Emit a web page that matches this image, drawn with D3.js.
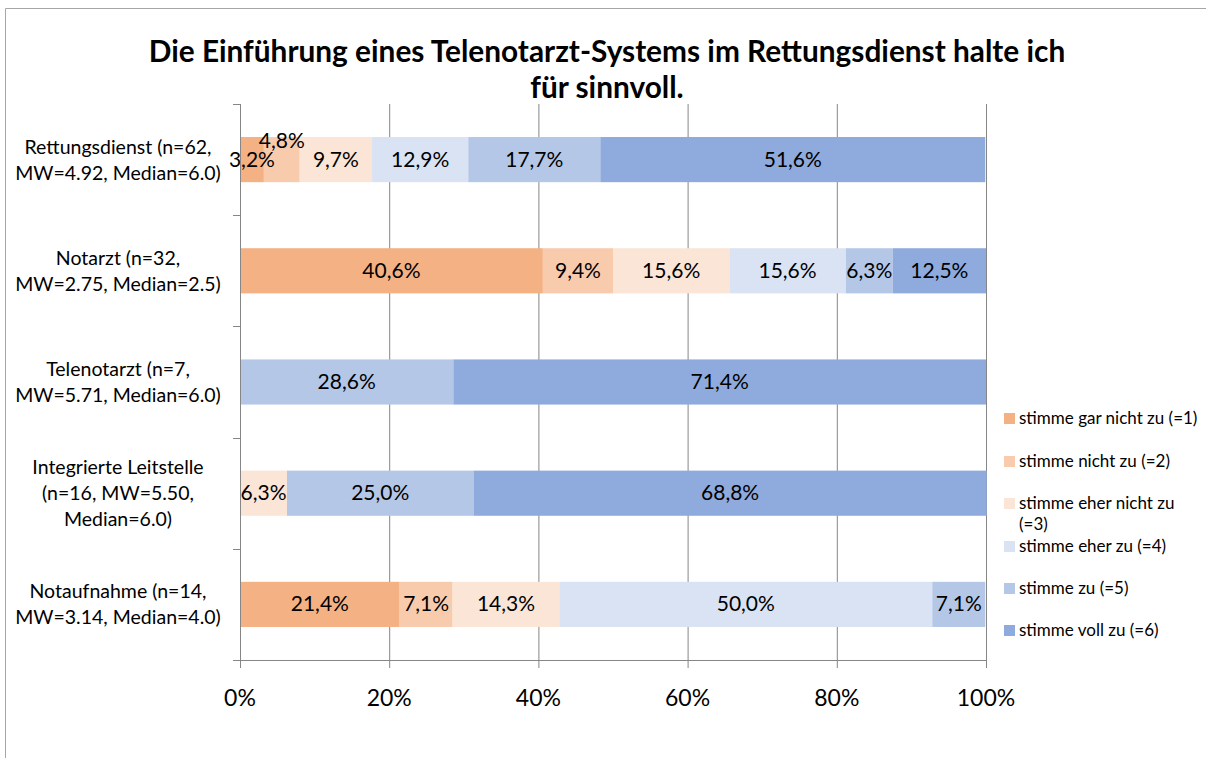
<!DOCTYPE html>
<html>
<head>
<meta charset="utf-8">
<script src="https://cdn.jsdelivr.net/npm/d3@7/dist/d3.min.js"></script>
<style>
  html, body { margin: 0; padding: 0; background: #fff; }
  svg { display: block; font-family: Lato, "Open Sans", sans-serif; }
</style>
</head>
<body>
<svg id="chart" width="1206" height="758"></svg>
<script>
// Survey groups (each label is split into display lines)
const categories = [
  ["Rettungsdienst (n=62,", "MW=4.92, Median=6.0)"],
  ["Notarzt (n=32,", "MW=2.75, Median=2.5)"],
  ["Telenotarzt (n=7,", "MW=5.71, Median=6.0)"],
  ["Integrierte Leitstelle", "(n=16, MW=5.50,", "Median=6.0)"],
  ["Notaufnahme (n=14,", "MW=3.14, Median=4.0)"]
];

// Answer scale
const seriesNames = [
  "stimme gar nicht zu (=1)",
  "stimme nicht zu (=2)",
  "stimme eher nicht zu (=3)",
  "stimme eher zu (=4)",
  "stimme zu (=5)",
  "stimme voll zu (=6)"
];
const seriesColors = ["#F4B183", "#F8CBAD", "#FBE5D6", "#DAE3F3", "#B4C7E7", "#8FAADC"];

// Percentages per group, one array per answer
const s1 = [3.2, 40.6, 0, 0, 21.4];
const s2 = [4.8, 9.4, 0, 0, 7.1];
const s3 = [9.7, 15.6, 0, 6.3, 14.3];
const s4 = [12.9, 15.6, 0, 0, 50.0];
const s5 = [17.7, 6.3, 28.6, 25.0, 7.1];
const s6 = [51.6, 12.5, 71.4, 68.8, 0];
const seriesValues = [s1, s2, s3, s4, s5, s6];

const xTicks = [0, 20, 40, 60, 80, 100];

const svg = d3.select("#chart");
const W = 1206, H = 758;

// Chart frame
svg.append("path")
  .attr("d", `M5.5,${H} V8.5 H${W}`)
  .attr("fill", "none").attr("stroke", "#a6a6a6").attr("stroke-width", 1);

// Title
const title = svg.append("text")
  .attr("text-anchor", "middle")
  .attr("font-weight", "bold").attr("font-size", 29.8).attr("fill", "#000");
title.append("tspan").attr("x", 607).attr("y", 62)
  .text("Die Einführung eines Telenotarzt-Systems im Rettungsdienst halte ich");
title.append("tspan").attr("x", 607).attr("y", 98).text("für sinnvoll.");

const plot = { left: 240, right: 986, top: 104, bottom: 660 };

const x = d3.scaleLinear().domain([0, 100]).range([plot.left, plot.right]);
const y = d3.scaleBand()
  .domain(d3.range(categories.length))
  .range([plot.top, plot.bottom])
  .paddingInner(0.594).paddingOuter(0.297);

// Vertical gridlines
svg.append("g").selectAll("line")
  .data(xTicks.slice(1))
  .join("line")
  .attr("x1", d => x(d) + 0.5).attr("x2", d => x(d) + 0.5)
  .attr("y1", plot.top).attr("y2", plot.bottom)
  .attr("stroke", "#868686").attr("stroke-width", 1);

// Stacked bars
const rows = categories.map((c, i) => {
  const r = { idx: i };
  seriesValues.forEach((s, k) => { r["k" + k] = s[i]; });
  return r;
});
const stack = d3.stack().keys(seriesNames.map((_, k) => "k" + k));
const layers = stack(rows);

const barG = svg.append("g");
layers.forEach((layer, k) => {
  barG.append("g").attr("fill", seriesColors[k])
    .selectAll("rect")
    .data(layer.filter(d => d[1] - d[0] > 0))
    .join("rect")
    .attr("x", d => x(d[0]))
    .attr("y", d => y(d.data.idx))
    .attr("width", d => x(d[1]) - x(d[0]))
    .attr("height", y.bandwidth());
});

// Data labels; a narrow segment following another narrow one is lifted so both stay readable
const labelG = svg.append("g").attr("font-size", 21).attr("fill", "#000").attr("text-anchor", "middle");
const fmt = v => d3.format(".1f")(v).replace(".", ",") + "%";
categories.forEach((c, i) => {
  let prevNarrow = false;
  layers.forEach((layer, k) => {
    const d = layer[i];
    const v = d[1] - d[0];
    if (v <= 0) { prevNarrow = false; return; }
    const w = x(d[1]) - x(d[0]);
    const narrow = w < 40;
    const lift = narrow && prevNarrow ? -19 : 0;
    labelG.append("text")
      .attr("x", (x(d[0]) + x(d[1])) / 2)
      .attr("y", y(i) + y.bandwidth() / 2 + 7 + lift)
      .text(fmt(seriesValues[k][i]));
    prevNarrow = narrow;
  });
});

// Axes lines and ticks
const axG = svg.append("g").attr("stroke", "#868686").attr("stroke-width", 1);
axG.append("line")
  .attr("x1", plot.left + 0.5).attr("x2", plot.left + 0.5)
  .attr("y1", plot.top).attr("y2", plot.bottom);
const catEdges = d3.range(categories.length + 1).map(i => plot.top + i * (plot.bottom - plot.top) / categories.length);
axG.selectAll(".ytick").data(catEdges).join("line")
  .attr("x1", plot.left - 7).attr("x2", plot.left)
  .attr("y1", d => Math.round(d) + 0.5).attr("y2", d => Math.round(d) + 0.5);
axG.append("line")
  .attr("x1", plot.left - 7).attr("x2", plot.right)
  .attr("y1", plot.bottom + 0.5).attr("y2", plot.bottom + 0.5);
axG.selectAll(".xtick").data(xTicks).join("line")
  .attr("x1", d => x(d) + 0.5).attr("x2", d => x(d) + 0.5)
  .attr("y1", plot.bottom).attr("y2", plot.bottom + 8);

// X tick labels
svg.append("g").attr("font-size", 23).attr("text-anchor", "middle").attr("fill", "#000")
  .selectAll("text").data(xTicks).join("text")
  .attr("x", d => x(d)).attr("y", 706)
  .text(d => d + "%");

// Category labels
const catG = svg.append("g").attr("font-size", 19.5).attr("text-anchor", "middle").attr("fill", "#000");
categories.forEach((lines, i) => {
  const cy = y(i) + y.bandwidth() / 2;
  const lh = 26;
  const t = catG.append("text");
  lines.forEach((ln, j) => {
    t.append("tspan").attr("x", 118)
      .attr("y", cy + (j - (lines.length - 1) / 2) * lh + 7)
      .text(ln);
  });
});

// Legend
const legendRows = [418, 461, 503, 546, 588, 630];
const legG = svg.append("g").attr("font-size", 17).attr("fill", "#000");
seriesNames.forEach((name, k) => {
  const ly = legendRows[k];
  legG.append("rect").attr("x", 1004).attr("y", ly - 5).attr("width", 11).attr("height", 11)
    .attr("fill", seriesColors[k]);
  const t = legG.append("text").attr("x", 1019).attr("y", ly + 6);
  if (k === 2) {
    t.append("tspan").attr("x", 1019).text("stimme eher nicht zu");
    t.append("tspan").attr("x", 1019).attr("dy", 21).text("(=3)");
  } else {
    t.text(name);
  }
});
</script>
</body>
</html>
